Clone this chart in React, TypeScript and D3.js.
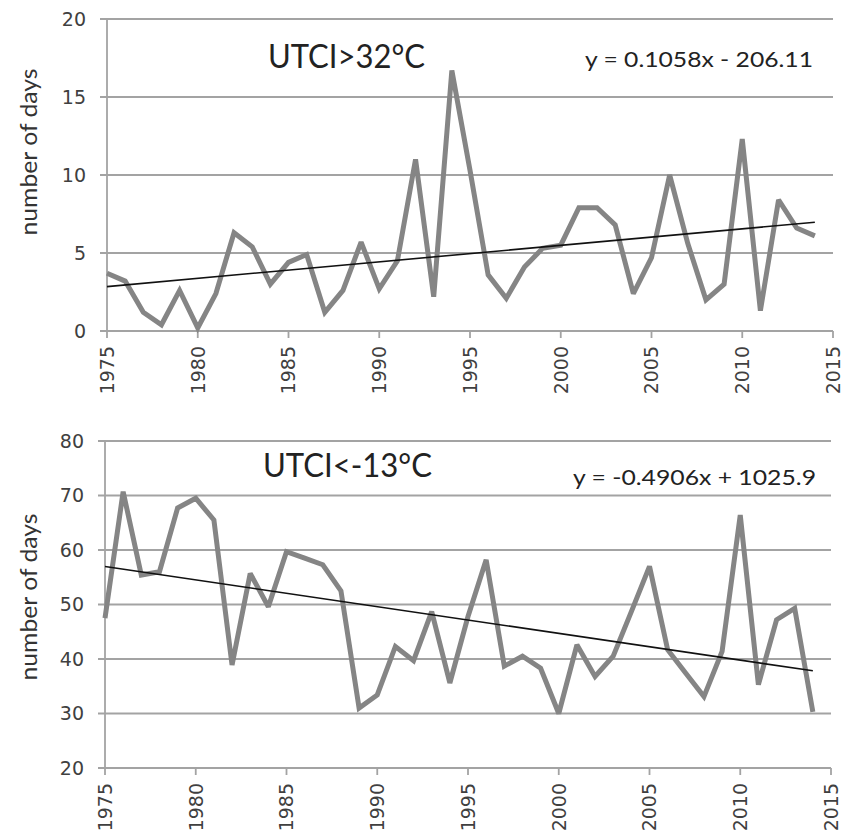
import React from "react";
import * as d3 from "d3";

const years: number[] = d3.range(1975, 2015);
const heatDays: number[] = [3.7, 3.2, 1.2, 0.4, 2.6, 0.2, 2.4, 6.3, 5.4, 3.0, 4.4, 4.9, 1.2, 2.6, 5.7, 2.7, 4.5, 11.0, 2.2, 16.7, 10.3, 3.6, 2.1, 4.1, 5.3, 5.5, 7.9, 7.9, 6.8, 2.4, 4.7, 10.0, 5.6, 2.0, 3.0, 12.3, 1.3, 8.4, 6.6, 6.1];
const coldDays: number[] = [47.5, 70.7, 55.4, 56, 67.7, 69.5, 65.5, 38.9, 55.7, 49.6, 59.7, 58.5, 57.3, 52.5, 31, 33.4, 42.3, 39.7, 48.7, 35.6, 47.8, 58.2, 38.7, 40.5, 38.3, 30, 42.6, 36.8, 40.5, 48.7, 57, 41.7, 37.4, 33.1, 41.4, 66.4, 35.3, 47.2, 49.3, 30.3];
const xTicks: number[] = [1975, 1980, 1985, 1990, 1995, 2000, 2005, 2010, 2015];
const heatTicks: number[] = [0, 5, 10, 15, 20];
const coldTicks: number[] = [20, 30, 40, 50, 60, 70, 80];
const heatTrend = { slope: 0.1058, intercept: -206.11, label: "y = 0.1058x - 206.11" };
const coldTrend = { slope: -0.4906, intercept: 1025.9, label: "y = -0.4906x + 1025.9" };
const titles = ["UTCI>32°C", "UTCI<-13°C"];
const yLabel = "number of days";

type PanelProps = {
  values: number[];
  ticks: number[];
  domain: [number, number];
  yRange: [number, number];
  xRange: [number, number];
  trend: { slope: number; intercept: number; label: string };
  title: string;
  titlePos: { x: number; y: number; len: number };
  eqPos: { x: number; y: number; len: number };
  labelPos: { x: number; y: number; len: number };
};

const GRID = "#a3a3a3";
const TICKFONT = "'DejaVu Sans', sans-serif";
const LABELFONT = "Lato, 'Open Sans', sans-serif";

function Panel(p: PanelProps) {
  const x = d3.scaleLinear().domain([1975, 2015]).range(p.xRange);
  const y = d3.scaleLinear().domain(p.domain).range(p.yRange);
  const line = d3
    .line<number>()
    .x((_, i) => x(years[i]))
    .y((d) => y(d));
  const trendYears = [years[0], years[years.length - 1]];
  const trendLine = d3
    .line<number>()
    .x((yr) => x(yr))
    .y((yr) => y(p.trend.slope * yr + p.trend.intercept));
  const [x0, x1] = p.xRange;
  const yBase = y(p.domain[0]);
  return (
    <g>
      {p.ticks.map((t) => (
        <g key={"g" + t}>
          <line x1={x0 - 7} x2={x1} y1={y(t)} y2={y(t)} stroke={GRID} strokeWidth={1.8} />
          <text
            x={x0 - 21}
            y={y(t)}
            dy="0.36em"
            textAnchor="end"
            fontFamily={TICKFONT}
            fontSize={19}
            fill="#404040"
          >
            {t}
          </text>
        </g>
      ))}
      <line x1={x0} x2={x0} y1={y(p.domain[1])} y2={yBase} stroke={GRID} strokeWidth={1.8} />
      {xTicks.map((t) => (
        <g key={"x" + t}>
          <line x1={x(t)} x2={x(t)} y1={yBase} y2={yBase + 7} stroke={GRID} strokeWidth={1.8} />
          <text
            transform={`translate(${x(t)},${yBase + 15}) rotate(-90)`}
            dy="0.36em"
            textAnchor="end"
            fontFamily={TICKFONT}
            fontSize={19}
            fill="#404040"
          >
            {t}
          </text>
        </g>
      ))}
      <path d={line(p.values) || ""} fill="none" stroke="#858585" strokeWidth={5} strokeLinejoin="miter" strokeMiterlimit={2.5} />
      <path d={trendLine(trendYears) || ""} fill="none" stroke="#111" strokeWidth={1.6} />
      <text
        x={p.titlePos.x}
        y={p.titlePos.y}
        fontFamily={LABELFONT}
        fontSize={32}
        fill="#222"
        textLength={p.titlePos.len}
        lengthAdjust="spacingAndGlyphs"
      >
        {p.title}
      </text>
      <text
        x={p.eqPos.x}
        y={p.eqPos.y}
        fontFamily={LABELFONT}
        fontSize={22}
        fill="#222"
        textLength={p.eqPos.len}
        lengthAdjust="spacingAndGlyphs"
      >
        {p.trend.label}
      </text>
      <text
        transform={`translate(${p.labelPos.x},${p.labelPos.y}) rotate(-90)`}
        textAnchor="middle"
        fontFamily={LABELFONT}
        fontSize={24}
        fill="#333"
        textLength={p.labelPos.len}
        lengthAdjust="spacingAndGlyphs"
      >
        {yLabel}
      </text>
    </g>
  );
}

export default function App() {
  return (
    <svg
      width={854}
      height={839}
      style={{ position: "absolute", left: 0, top: 0, background: "#fff" }}
    >
      <rect width={854} height={839} fill="#fff" />
      <Panel
        values={heatDays}
        ticks={heatTicks}
        domain={[0, 20]}
        yRange={[331, 19]}
        xRange={[107, 833]}
        trend={heatTrend}
        title={titles[0]}
        titlePos={{ x: 268, y: 68, len: 157 }}
        eqPos={{ x: 585, y: 67, len: 228 }}
        labelPos={{ x: 37, y: 152, len: 167 }}
      />
      <Panel
        values={coldDays}
        ticks={coldTicks}
        domain={[20, 80]}
        yRange={[768, 441]}
        xRange={[105, 831]}
        trend={coldTrend}
        title={titles[1]}
        titlePos={{ x: 263, y: 477, len: 169 }}
        eqPos={{ x: 573, y: 485, len: 243 }}
        labelPos={{ x: 37, y: 597, len: 167 }}
      />
    </svg>
  );
}
